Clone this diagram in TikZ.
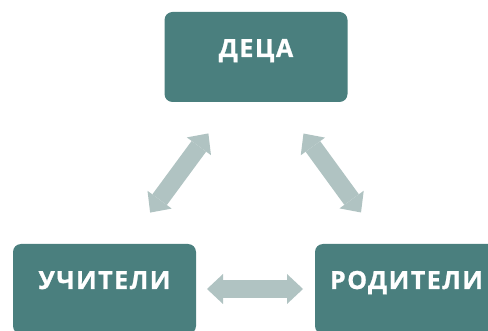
\documentclass[tikz,border=0pt]{standalone}
\usepackage{fontspec}
\setmainfont{Open Sans}
\usetikzlibrary{arrows.meta,positioning}
\definecolor{boxteal}{RGB}{74,127,126}
\definecolor{arrowgrey}{RGB}{176,195,194}

\begin{document}
\begin{tikzpicture}[x=1pt, y=-1pt,
                    block/.style={rectangle, rounded corners=8pt, fill=boxteal, text=white, font=\bfseries\fontsize{25}{28}\selectfont\addfontfeatures{LetterSpace=6, FakeBold=1}, minimum width=183pt, minimum height=90pt, text height=17pt, text depth=17pt, inner sep=0pt, outer sep=0pt},
                    link/.style={arrowgrey, line width=18pt, {Triangle[width=30pt, length=16pt, line width=0pt]}-{Triangle[width=30pt, length=16pt, line width=0pt]}, shorten <=39pt, shorten >=39pt}]
\useasboundingbox (0,0) rectangle (488,331);
\clip (0,0) rectangle (488,331);

% Place the three blocks
\node[block] (deca) at (256,57) {ДЕЦА};
\node[block] (uchiteli) at (104.5,289) {УЧИТЕЛИ};
\node[block, right=119pt of uchiteli] (roditeli) {РОДИТЕЛИ};

% Double arrows between the blocks
\draw[link] ([xshift=-24.5pt]deca.south) -- ([xshift=22.5pt]uchiteli.north);
\draw[link] ([xshift=24.5pt]deca.south) -- ([xshift=-22.5pt]roditeli.north);
\draw[link, shorten <=11pt, shorten >=12pt] (uchiteli) -- (roditeli);

\end{tikzpicture}
\end{document}
